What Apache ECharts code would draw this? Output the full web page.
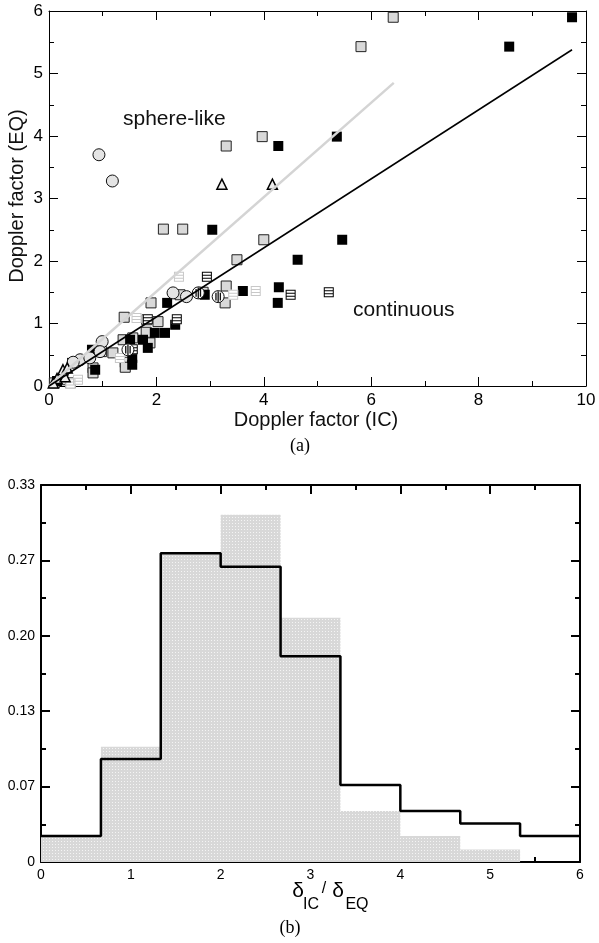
<!DOCTYPE html>
<html lang="en">
<head>
    <meta charset="UTF-8">
    <title>Doppler factor</title>
    <script src="https://cdn.jsdelivr.net/npm/echarts@6/dist/echarts.min.js"></script>
</head>
<body style="margin:0;background:#fff">
<div id="main" style="width:599px;height:943px"></div>
<script>
    // (a) Doppler factor EQ vs IC
    var grayBoxes = [[6.41, 5.90], [5.81, 5.43], [3.30, 3.84], [3.97, 3.99], [2.13, 2.51], [2.49, 2.51],
        [4.00, 2.34], [3.50, 2.02], [3.30, 1.60], [3.28, 1.33], [2.44, 1.46], [1.90, 1.33], [1.40, 1.10],
        [1.82, 1.06], [2.03, 1.03], [1.81, 0.86], [1.56, 0.77], [1.38, 0.74], [0.98, 0.55], [1.19, 0.53],
        [1.42, 0.38], [1.42, 0.30], [0.82, 0.29], [0.82, 0.21], [1.88, 0.69], [0.10, 0.05], [0.25, 0.10],
        [0.40, 0.05], [2.87, 1.50]];
    var blackBoxes = [[9.74, 5.90], [8.57, 5.43], [4.27, 3.84], [5.36, 3.99], [3.04, 2.50], [5.46, 2.34],
        [4.63, 2.02], [3.61, 1.52], [4.28, 1.58], [4.26, 1.33], [2.90, 1.46], [2.20, 1.33], [2.35, 0.98],
        [1.97, 0.85], [2.16, 0.85], [1.51, 0.74], [1.75, 0.74], [1.84, 0.61], [0.80, 0.58], [1.55, 0.45],
        [1.55, 0.34], [0.43, 0.37], [0.86, 0.26], [0.15, 0.08]];
    var stripedBoxes = [[2.94, 1.75], [4.50, 1.46], [5.21, 1.50], [2.38, 1.07], [1.84, 1.07], [1.56, 0.59]];
    var paleStripedBoxes = [[2.42, 1.75], [3.43, 1.46], [3.85, 1.52], [1.63, 1.09], [1.32, 0.45],
        [0.54, 0.10], [0.40, 0.04]];
    var openCircles = [[0.93, 3.70], [1.18, 3.28], [2.31, 1.49], [2.56, 1.43], [0.99, 0.71], [0.58, 0.42],
        [0.45, 0.38], [0.76, 0.45], [0.95, 0.55]];
    var stripedCircles = [[2.78, 1.49], [3.15, 1.43], [1.47, 0.58]];
    var triangles = [[3.22, 3.23], [4.16, 3.23], [0.26, 0.26], [0.34, 0.29], [0.15, 0.12], [0.08, 0.05],
        [0.30, 0.15]];
    var fitGray = [[0, 0], [6.42, 4.85]];
    var fitBlack = [[0, 0], [9.74, 5.38]];

    // (b) histogram of delta_IC / delta_EQ
    var binEdges = [0, 0.667, 1.333, 2, 2.667, 3.333, 4, 4.667, 5.333, 6];
    var histGray = [0.023, 0.102, 0.273, 0.307, 0.216, 0.045, 0.023, 0.011, 0];
    var histBlack = [0.023, 0.091, 0.273, 0.261, 0.182, 0.068, 0.045, 0.034, 0.023];

    function steps(vals) {
        var res = [];
        for (var i = 0; i < vals.length; i++) res.push([binEdges[i], vals[i]]);
        res.push([binEdges[vals.length], vals[vals.length - 1]]);
        return res;
    }

    // stipple fill
    var dots = document.createElement('canvas');
    dots.width = 3;
    dots.height = 3;
    var dc = dots.getContext('2d');
    dc.fillStyle = '#d8d8d8';
    dc.fillRect(0, 0, 3, 3);
    dc.fillStyle = '#f4f4f4';
    dc.fillRect(1, 1, 1, 1);

    var hStripes = 'path://M0,0H10V10H0Z M1,1V3H9V1Z M1,4V6H9V4Z M1,7V9H9V7Z';
    var vStripes = 'path://M0,5h0.1v0.1h-0.1Z M9.9,5h0.1v0.1h-0.1Z M2.4,1.5h1.2v7h-1.2Z M4.4,0h1.2v10h-1.2Z M6.4,1.5h1.2v7h-1.2Z';
    var font = 'Liberation Sans, Arial, sans-serif';

    // frame side with inward ticks; the minor copy has short ticks and no line/labels
    function side(grid, pos, min, max, step, width, tickLen, show, size) {
        return {
            type: 'value', gridIndex: grid, position: pos, min: min, max: max, interval: step,
            axisLine: {show: tickLen > 6, onZero: false, lineStyle: {color: '#000', width: width}},
            axisTick: {show: true, inside: true, length: tickLen, lineStyle: {color: '#000', width: width}},
            splitLine: {show: false},
            axisLabel: {show: show, color: '#000', fontSize: size, fontFamily: font, margin: 6,
                formatter: function (v) {
                    if (grid === 1 && pos === 'left') return v === 0 ? '0' : v.toFixed(2);
                    return v;
                }}
        };
    }

    function frame(grid, pos, min, max, step, width, show, size) {
        return [side(grid, pos, min, max, step, width, 9, show, size),
            side(grid, pos, min, max, step / 2, width, 5, false, size)];
    }

    function markers(data, symbol, size, fill, border, bw, z) {
        return {
            type: 'scatter', xAxisIndex: 0, yAxisIndex: 0, data: data, symbol: symbol, symbolSize: size, z: z,
            itemStyle: {color: fill, borderColor: border, borderWidth: bw, opacity: 1},
            emphasis: {disabled: true}, silent: true
        };
    }

    // axes 0-3: top plot (bottom/left, minor, top/right, minor), 4-7: histogram
    var xAxes = [].concat(
        frame(0, 'bottom', 0, 10, 2, 1, true, 17), frame(0, 'top', 0, 10, 2, 1, false, 17),
        frame(1, 'bottom', 0, 6, 1, 2, true, 14), frame(1, 'top', 0, 6, 1, 2, false, 14));
    var yAxes = [].concat(
        frame(0, 'left', 0, 6, 1, 1, true, 17), frame(0, 'right', 0, 6, 1, 1, false, 17),
        frame(1, 'left', 0, 1 / 3, 1 / 15, 2, true, 14), frame(1, 'right', 0, 1 / 3, 1 / 15, 2, false, 14));

    var myChart = echarts.init(document.getElementById('main'));
    myChart.setOption({
        animation: false,
        backgroundColor: '#fff',
        grid: [
            {left: 49, top: 11, width: 537, height: 375},
            {left: 41, top: 485, width: 539, height: 377}
        ],
        xAxis: xAxes,
        yAxis: yAxes,
        series: [
            markers(grayBoxes, 'rect', 10, '#d9d9d9', '#222', 1, 3),
            markers(blackBoxes, 'rect', 10, '#000', '#000', 0, 3),
            markers(stripedBoxes, 'rect', 10, '#fff', '#fff', 0, 3),
            markers(stripedBoxes, hStripes, 10, '#000', '#000', 0, 3),
            markers(paleStripedBoxes, 'rect', 10, '#fff', '#fff', 0, 3),
            markers(paleStripedBoxes, hStripes, 10, '#c8c8c8', '#c8c8c8', 0, 3),
            markers(openCircles, 'circle', 12, '#e4e4e4', '#111', 1, 3),
            markers(stripedCircles, 'circle', 12, '#fff', '#111', 1, 3),
            markers(stripedCircles, vStripes, 11, '#111', '#111', 0, 3),
            markers(triangles, 'triangle', 10, '#eeeeee', '#000', 1.5, 3),
            {
                type: 'line', xAxisIndex: 0, yAxisIndex: 0, data: fitGray, showSymbol: false, z: 4,
                lineStyle: {color: '#d4d4d4', width: 2.5}, silent: true
            },
            {
                type: 'line', xAxisIndex: 0, yAxisIndex: 0, data: fitBlack, showSymbol: false, z: 5,
                lineStyle: {color: '#000', width: 1.5}, silent: true
            },
            {
                type: 'line', xAxisIndex: 4, yAxisIndex: 4, data: steps(histGray), step: 'end',
                showSymbol: false, z: 2, lineStyle: {width: 0},
                areaStyle: {color: {image: dots, repeat: 'repeat'}, opacity: 1}, silent: true
            },
            {
                type: 'line', xAxisIndex: 4, yAxisIndex: 4, data: steps(histBlack), step: 'end',
                showSymbol: false, z: 3, lineStyle: {color: '#000', width: 2.5}, silent: true
            }
        ],
        graphic: [
            {type: 'text', left: 123, top: 109, style: {text: 'sphere-like', font: '21px ' + font, fill: '#111'}},
            {type: 'text', left: 353, top: 300, style: {text: 'continuous', font: '21px ' + font, fill: '#111'}},
            {type: 'text', x: 316, y: 420, style: {text: 'Doppler factor (IC)', font: '20px ' + font,
                    fill: '#111', align: 'center', verticalAlign: 'middle'}},
            {type: 'text', x: 17, y: 196, rotation: Math.PI / 2, style: {text: 'Doppler factor (EQ)',
                    font: '20px ' + font, fill: '#111', align: 'center', verticalAlign: 'middle'}},
            {type: 'text', x: 300, y: 446, style: {text: '(a)', font: '18px Liberation Serif, serif',
                    fill: '#000', align: 'center', verticalAlign: 'middle'}},
            {type: 'text', x: 298, y: 891, style: {text: 'δ', font: '21px ' + font, fill: '#000',
                    align: 'center', verticalAlign: 'middle'}},
            {type: 'text', x: 311, y: 905, style: {text: 'IC', font: '16px ' + font, fill: '#000',
                    align: 'center', verticalAlign: 'middle'}},
            {type: 'text', x: 324, y: 889, style: {text: '/', font: '16px ' + font, fill: '#000',
                    align: 'center', verticalAlign: 'middle'}},
            {type: 'text', x: 338, y: 891, style: {text: 'δ', font: '21px ' + font, fill: '#000',
                    align: 'center', verticalAlign: 'middle'}},
            {type: 'text', x: 357, y: 905, style: {text: 'EQ', font: '16px ' + font, fill: '#000',
                    align: 'center', verticalAlign: 'middle'}},
            {type: 'text', x: 290, y: 928, style: {text: '(b)', font: '18px Liberation Serif, serif',
                    fill: '#000', align: 'center', verticalAlign: 'middle'}}
        ]
    });
</script>
</body>
</html>
